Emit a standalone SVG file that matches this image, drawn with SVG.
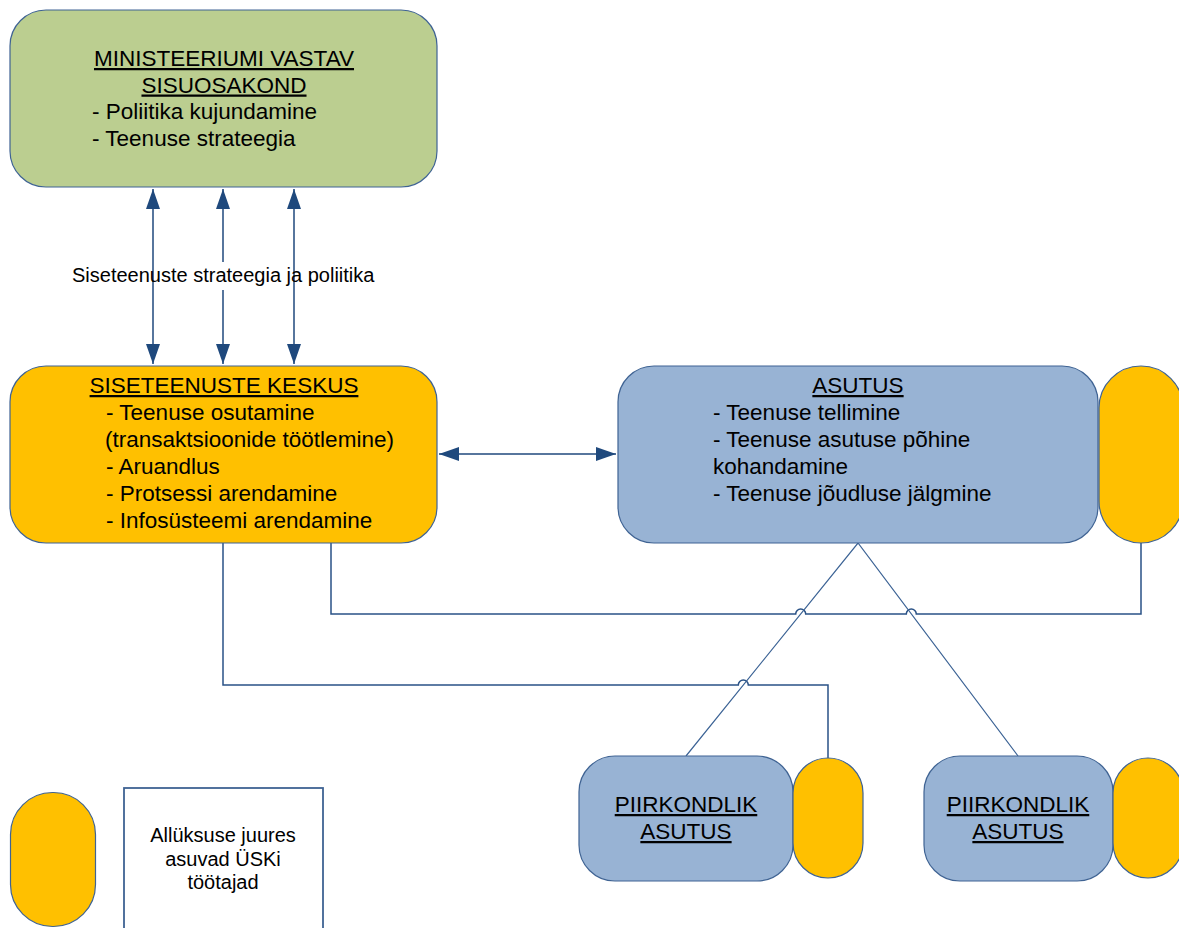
<svg xmlns="http://www.w3.org/2000/svg" width="1179" height="928" viewBox="0 0 1179 928">
  <style>
    text { font-family: "Liberation Sans", Arial, sans-serif; fill: #000; }
    .t { font-size: 22.5px; }
    .s { font-size: 20px; }
    .u { text-decoration: underline; }
    .box { stroke: #3F6393; stroke-width: 1.2; }
    .green { fill: #BBCE90; }
    .orange { fill: #FFC000; }
    .blue { fill: #98B3D4; }
    .conn { fill: none; stroke: #2A5286; stroke-width: 1.5; }
    .diag { fill: none; stroke: #3C6395; stroke-width: 1.2; }
    .arr { fill: none; stroke: #1F497D; stroke-width: 1.5; }
  </style>
  <defs>
    <marker id="ah" viewBox="0 0 20 14" refX="20" refY="7" markerWidth="20" markerHeight="14" markerUnits="userSpaceOnUse" orient="auto-start-reverse">
      <path d="M0,0 L20,7 L0,14 Z" fill="#1F497D"/>
    </marker>
  </defs>

  <!-- connectors -->
  <g id="connectors">
    <line class="arr" x1="153" y1="189" x2="153" y2="364" marker-start="url(#ah)" marker-end="url(#ah)"/>
    <line class="arr" x1="223" y1="189" x2="223" y2="364" marker-start="url(#ah)" marker-end="url(#ah)"/>
    <line class="arr" x1="294" y1="189" x2="294" y2="364" marker-start="url(#ah)" marker-end="url(#ah)"/>
    <rect x="215" y="262" width="16" height="28" fill="#fff"/>
    <text class="s" x="72" y="282">Siseteenuste strateegia ja poliitika</text>

    <line class="arr" x1="439" y1="454" x2="616" y2="454" marker-start="url(#ah)" marker-end="url(#ah)"/>

    <path class="conn" d="M331,543 V614 H795.7 a5,5 0 0 1 10,0 H906.3 a5,5 0 0 1 10,0 H1141 V543"/>
    <path class="conn" d="M223,543 V685 H738.3 a5,5 0 0 1 10,0 H828 V758"/>
    <path class="diag" d="M686,756 L858,543 L1018,756"/>
  </g>

  <!-- ministry department -->
  <g id="ministeerium">
    <rect class="box green" x="10" y="10" width="427" height="177" rx="36"/>
    <text class="t u" x="224" y="66" text-anchor="middle">MINISTEERIUMI VASTAV</text>
    <text class="t u" x="224" y="92.5" text-anchor="middle">SISUOSAKOND</text>
    <text class="t" x="92" y="119">- Poliitika kujundamine</text>
    <text class="t" x="92" y="146">- Teenuse strateegia</text>
  </g>

  <!-- shared service centre -->
  <g id="keskus">
    <rect class="box orange" x="10" y="366" width="427" height="177" rx="36"/>
    <text class="t u" x="224" y="393" text-anchor="middle">SISETEENUSTE KESKUS</text>
    <text class="t" x="106" y="420">- Teenuse osutamine</text>
    <text class="t" x="105" y="447">(transaktsioonide töötlemine)</text>
    <text class="t" x="106" y="474">- Aruandlus</text>
    <text class="t" x="106" y="501">- Protsessi arendamine</text>
    <text class="t" x="106" y="528">- Infosüsteemi arendamine</text>
  </g>

  <!-- agency -->
  <g id="asutus">
    <rect class="box blue" x="618" y="366" width="480" height="177" rx="36"/>
    <text class="t u" x="858" y="393" text-anchor="middle">ASUTUS</text>
    <text class="t" x="713" y="420">- Teenuse tellimine</text>
    <text class="t" x="713" y="447">- Teenuse asutuse põhine</text>
    <text class="t" x="713" y="474">kohandamine</text>
    <text class="t" x="713" y="501">- Teenuse jõudluse jälgmine</text>
  </g>
  <g id="asutus-staff">
    <rect class="box orange" x="1099" y="366" width="84" height="177" rx="42"/>
  </g>

  <!-- regional agencies -->
  <g id="piirkondlik-1">
    <rect class="box blue" x="579" y="756" width="214" height="125" rx="36"/>
    <text class="t u" x="686" y="812" text-anchor="middle">PIIRKONDLIK</text>
    <text class="t u" x="686" y="839" text-anchor="middle">ASUTUS</text>
  </g>
  <g id="piirkondlik-1-staff">
    <rect class="box orange" x="793" y="758" width="70" height="120" rx="35"/>
  </g>
  <g id="piirkondlik-2">
    <rect class="box blue" x="924" y="756" width="189" height="125" rx="36"/>
    <text class="t u" x="1018" y="812" text-anchor="middle">PIIRKONDLIK</text>
    <text class="t u" x="1018" y="839" text-anchor="middle">ASUTUS</text>
  </g>
  <g id="piirkondlik-2-staff">
    <rect class="box orange" x="1113" y="758" width="70" height="120" rx="35"/>
  </g>

  <!-- legend -->
  <g id="legend-symbol">
    <rect class="box orange" x="10.5" y="792.5" width="85" height="134" rx="42"/>
  </g>
  <g id="legend-text">
    <rect x="124" y="788" width="199" height="160" fill="#fff" stroke="#3F6393" stroke-width="1.8"/>
    <text class="s" x="223" y="842" text-anchor="middle">Allüksuse juures</text>
    <text class="s" x="223" y="865.5" text-anchor="middle">asuvad ÜSKi</text>
    <text class="s" x="223" y="889" text-anchor="middle">töötajad</text>
  </g>
</svg>
